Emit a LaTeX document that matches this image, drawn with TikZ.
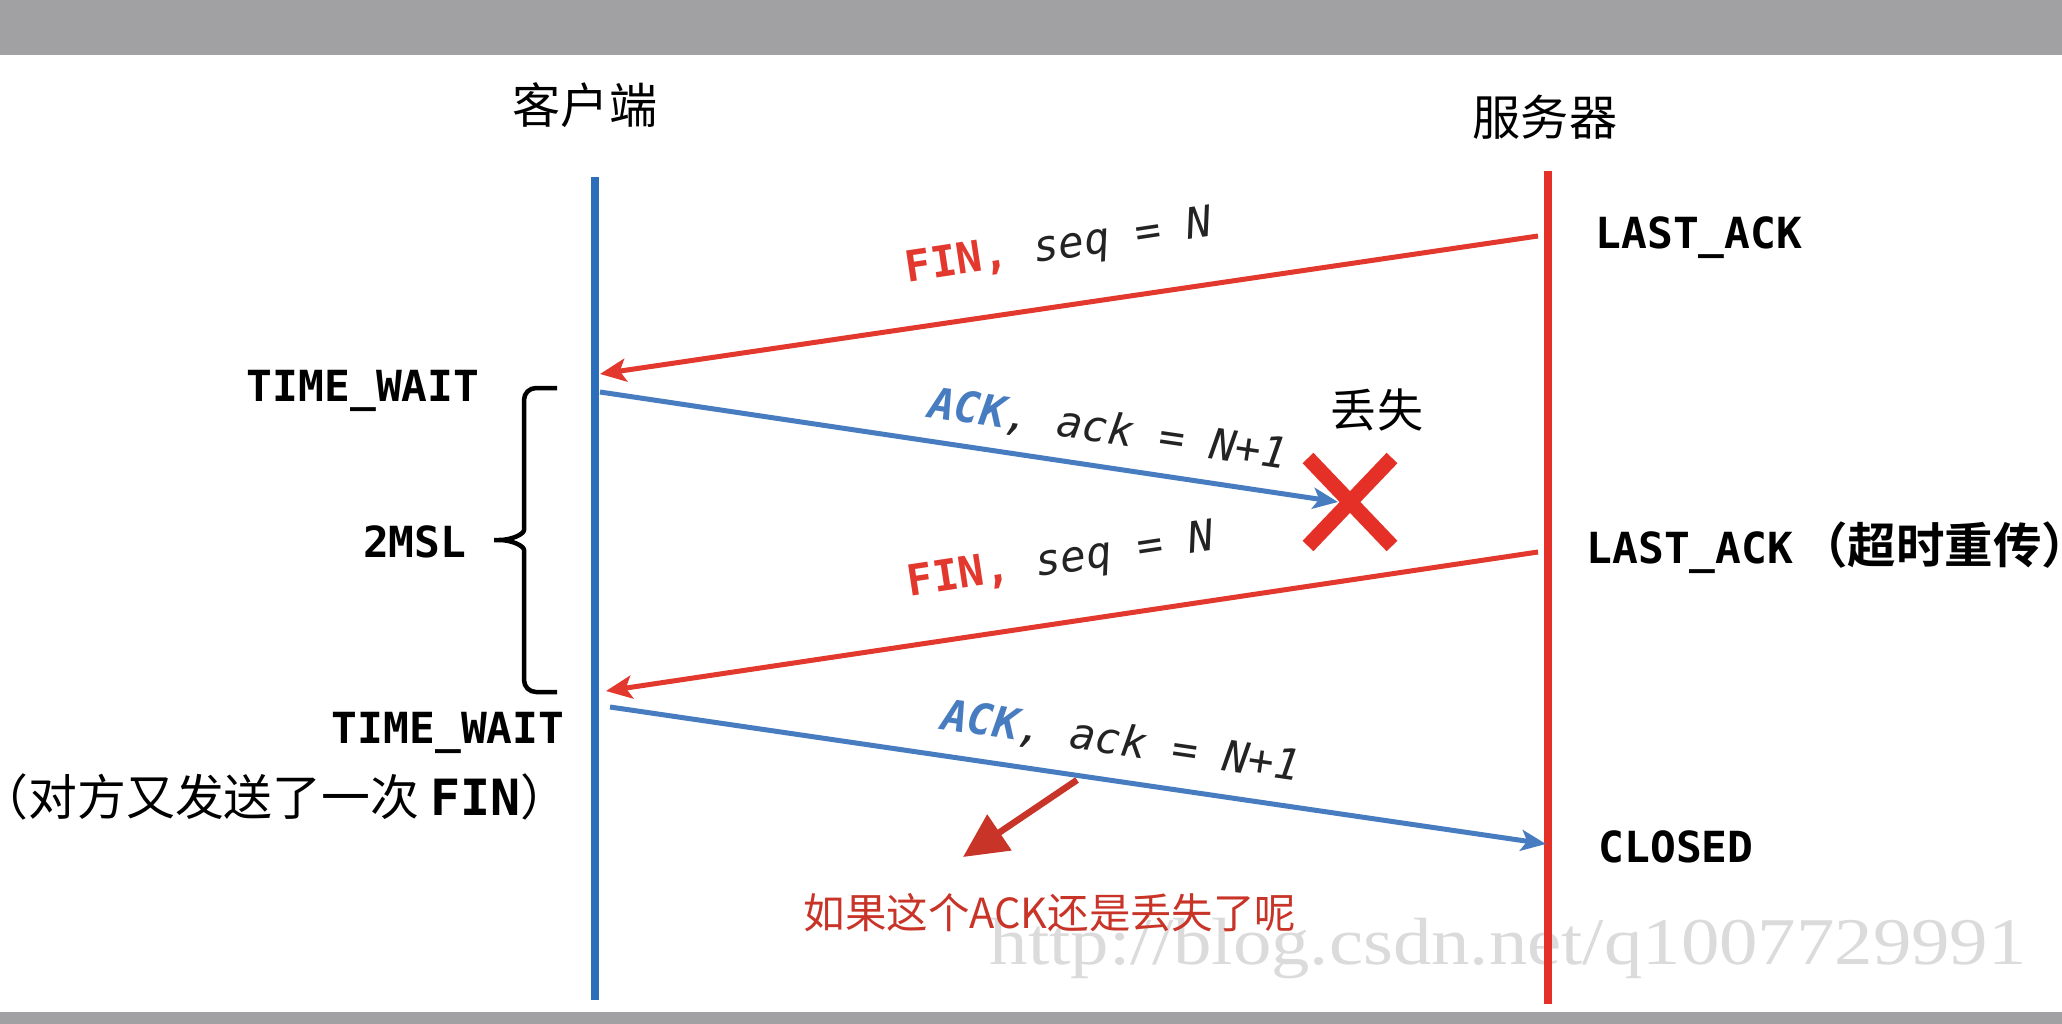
\documentclass[tikz,border=0pt]{standalone}
\usepackage{fontspec}
\setmonofont{DejaVu Sans Mono}
\newfontfamily\cjk{Noto Sans CJK SC}[BoldFont={Noto Sans CJK SC Bold}]
\newfontfamily\wmfont{Liberation Serif}
\usetikzlibrary{arrows.meta}

\definecolor{barGray}{RGB}{161,160,162}
\definecolor{clientBlue}{RGB}{44,110,186}
\definecolor{ackBlue}{RGB}{72,124,192}
\definecolor{serverRed}{RGB}{228,48,38}
\definecolor{finRed}{RGB}{226,56,46}
\definecolor{noteRed}{RGB}{200,52,40}
\definecolor{labelDark}{RGB}{35,35,35}

\begin{document}
\begin{tikzpicture}[
    x=0.1mm, y=-0.1mm, % one unit is one pixel of the picture
    statelabel/.style={font=\ttfamily\bfseries\fontsize{12.2}{14}\selectfont, inner sep=0pt},
    msglabel/.style={font=\ttfamily\itshape\fontsize{12.2}{14}\selectfont, text=labelDark, inner sep=0pt},
    headlabel/.style={font=\cjk\fontsize{13.7}{16}\selectfont, inner sep=0pt},
    lifeline/.style={line width=0.8mm},
    finmsg/.style={draw=finRed, line width=0.5mm, -{Stealth[length=2.6mm,width=2.3mm,inset=0.6mm]}},
    ackmsg/.style={draw=ackBlue, line width=0.5mm, -{Stealth[length=2.5mm,width=2.1mm,inset=0.6mm]}}
]

\useasboundingbox (0,0) rectangle (2062,1024);
\fill[white] (0,0) rectangle (2062,1024);
\fill[barGray] (0,0) rectangle (2062,55);
\fill[barGray] (0,1012) rectangle (2062,1024);

% watermark, under the server line
\node[font=\wmfont\fontsize{19}{22}\selectfont, text=black!14, xscale=1.15, anchor=base west, inner sep=0pt]
    (watermark) at (989,964) {http://blog.csdn.net/q1007729991};

% the two ends
\node[headlabel] (client) at (585,105) {客户端};
\node[headlabel] (server) at (1545,117) {服务器};

\coordinate (cTop) at (595,177);
\coordinate (cBot) at (595,1000);
\coordinate (sTop) at (1548,171);
\coordinate (sBot) at (1548,1004);
\draw[lifeline, clientBlue] (cTop) -- (cBot);
\draw[lifeline, serverRed] (sTop) -- (sBot);

% message ends
\coordinate (s1) at (1538,236);
\coordinate (c1) at (600,374);
\coordinate (c2) at (600,392);
\coordinate (lost) at (1350,502);
\coordinate (s3) at (1538,552);
\coordinate (c3) at (606,691);
\coordinate (c4) at (610,707);
\coordinate (s4) at (1546,844);

\draw[finmsg] (s1) -- (c1);
\draw[ackmsg] (c2) -- ([xshift=-1.2mm]lost);
\draw[finmsg] (s3) -- (c3);
\draw[ackmsg] (c4) -- (s4);

\node[msglabel, rotate=8.6] (fin1) at (1059,248) {\textcolor{finRed}{\upshape\bfseries FIN,} seq = N};
\node[msglabel, rotate=-8.3] (ack1) at (1108,430) {\textcolor{ackBlue}{\bfseries ACK}, ack = N+1};
\node[msglabel, rotate=8.6] (fin2) at (1061,562) {\textcolor{finRed}{\upshape\bfseries FIN,} seq = N};
\node[msglabel, rotate=-8.3] (ack2) at (1121,742) {\textcolor{ackBlue}{\bfseries ACK}, ack = N+1};

% lost segment
\draw[serverRed, line width=1.5mm] ([shift={(-42,-44)}]lost) -- ([shift={(42,44)}]lost)
    ([shift={(42,-44)}]lost) -- ([shift={(-42,44)}]lost);
\node[font=\cjk\fontsize{13.1}{15}\selectfont, inner sep=0pt] (lostlbl) at (1377,410) {丢失};

% server states
\node[statelabel, anchor=base west] (lastack1) at (1595,248) {LAST\_ACK};
\node[statelabel, anchor=base west] (lastack2) at (1586,563)
    {LAST\_ACK\hspace{0.6mm}{\cjk\bfseries\fontsize{13.8}{16}\selectfont （超时重传）}};
\node[statelabel, anchor=base west] (closed) at (1598,862) {CLOSED};

% client states
\node[statelabel, anchor=base east] (wait1) at (480,401) {TIME\_WAIT};
\node[statelabel, anchor=base east] (msl) at (467,557) {2MSL};
\node[statelabel, anchor=base east] (wait2) at (565,743) {TIME\_WAIT};
\node[font=\cjk\fontsize{13.9}{16}\selectfont, anchor=east, inner sep=0pt] (again) at (570,797)
    {（对方又发送了一次 {\ttfamily\bfseries\fontsize{14.2}{16}\selectfont FIN}）};

% 2MSL bracket
\coordinate (braceTop) at (557,388);
\coordinate (braceTip) at (487,540);
\coordinate (braceBot) at (557,692);
\draw[line width=0.45mm, rounded corners=1.2mm]
    (braceTop) -- (524,388) -- (524,518)
    .. controls (524,534) and (512,540) .. (braceTip)
    .. controls (512,540) and (524,546) .. (524,562)
    -- (524,692) -- (braceBot);

% what if this ACK is lost too
\coordinate (noteFrom) at (1077,780);
\coordinate (noteTo) at (963,857);
\draw[noteRed, line width=0.65mm, -{Triangle[length=4.4mm,width=4.2mm]}] (noteFrom) -- (noteTo);
\node[font=\cjk\fontsize{11.8}{14}\selectfont, text=noteRed, inner sep=0pt] (note) at (1050,913) {如果这个ACK还是丢失了呢};

\end{tikzpicture}
\end{document}
